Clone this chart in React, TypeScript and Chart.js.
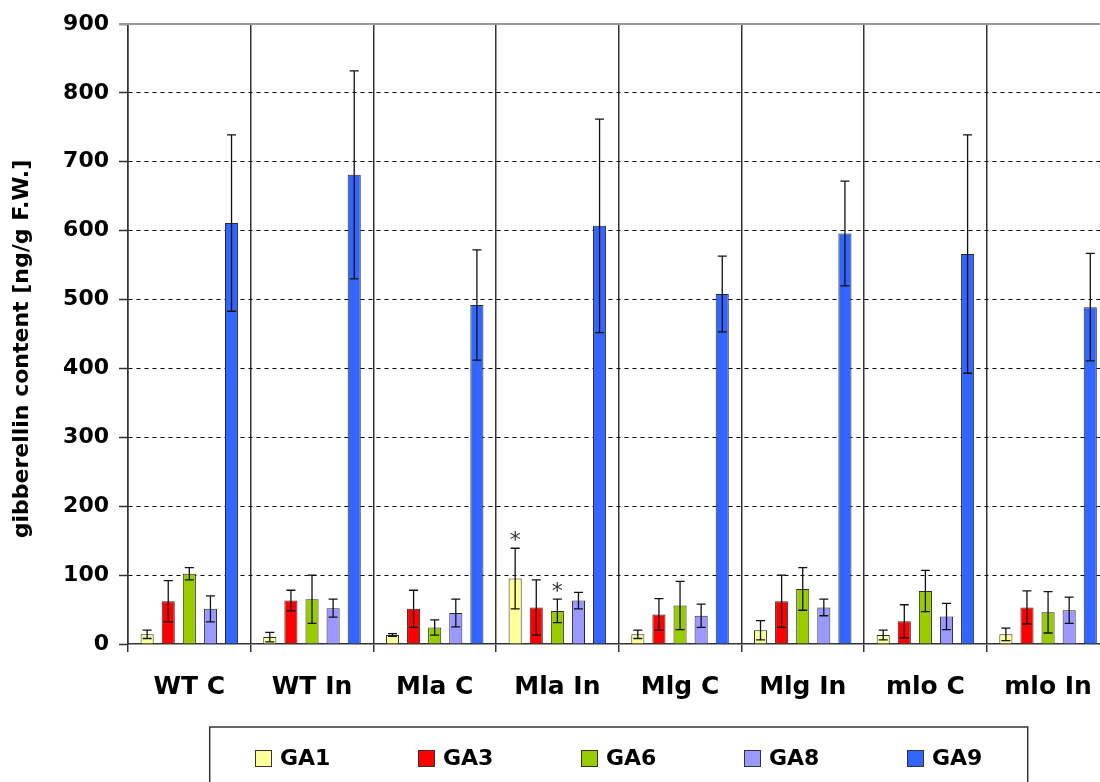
import React, { useEffect, useRef } from "react";
import { Chart, registerables } from "chart.js";

Chart.register(...registerables);

const categories = ["WT C", "WT In", "Mla C", "Mla In", "Mlg C", "Mlg In", "mlo C", "mlo In"];
const seriesNames = ["GA1", "GA3", "GA6", "GA8", "GA9"];
const seriesColors = ["#FFFF99", "#FF0000", "#99CC00", "#9999FF", "#3366FF"];

const ga1 = [14, 10, 13, 95, 14, 20, 13, 14];
const ga1Err = [6, 7, 2, 44, 6, 14, 7, 9];
const ga3 = [62, 63, 51, 53, 43, 62, 33, 53];
const ga3Err = [30, 15, 27, 40, 23, 38, 24, 24];
const ga6 = [102, 65, 24, 48, 56, 80, 77, 46];
const ga6Err = [9, 35, 11, 17, 35, 31, 30, 30];
const ga8 = [51, 52, 45, 63, 41, 53, 40, 49];
const ga8Err = [19, 13, 20, 12, 17, 12, 19, 19];
const ga9 = [611, 681, 492, 607, 508, 596, 566, 489];
const ga9Err = [128, 151, 80, 155, 55, 76, 173, 78];

// [category index, series index] marked with an asterisk
const significant = [
  [3, 0],
  [3, 2],
];

const yMin = 0;
const yMax = 900;
const yStep = 100;
const yTitle = "gibberellin content [ng/g F.W.]";

const seriesValues = [ga1, ga3, ga6, ga8, ga9];
const seriesErrors = [ga1Err, ga3Err, ga6Err, ga8Err, ga9Err];

const FONT = "'DejaVu Sans', 'Liberation Sans', sans-serif";

const errorBarPlugin = {
  id: "errorBars",
  afterDatasetsDraw(chart: any) {
    const ctx = chart.ctx;
    const ys = chart.scales.y;
    ctx.save();
    ctx.strokeStyle = "#111";
    ctx.lineWidth = 1.3;
    chart.data.datasets.forEach((ds: any, i: number) => {
      const meta = chart.getDatasetMeta(i);
      meta.data.forEach((el: any, j: number) => {
        const v = ds.data[j];
        const e = seriesErrors[i][j];
        const x = el.x;
        const t = ys.getPixelForValue(v + e);
        const b = ys.getPixelForValue(Math.max(v - e, 0));
        ctx.beginPath();
        ctx.moveTo(x, t);
        ctx.lineTo(x, b);
        ctx.moveTo(x - 4.5, t);
        ctx.lineTo(x + 4.5, t);
        ctx.moveTo(x - 4.5, b);
        ctx.lineTo(x + 4.5, b);
        ctx.stroke();
      });
    });
    // significance asterisks
    ctx.fillStyle = "#333";
    ctx.font = `22px ${FONT}`;
    ctx.textAlign = "center";
    ctx.textBaseline = "alphabetic";
    significant.forEach(([c, s]) => {
      const el = chart.getDatasetMeta(s).data[c];
      const v = seriesValues[s][c] + seriesErrors[s][c];
      const t = ys.getPixelForValue(v);
      ctx.fillText("*", el.x, t - 1);
    });
    ctx.restore();
  },
};

const decorPlugin = {
  id: "decor",
  afterDraw(chart: any) {
    const ctx = chart.ctx;
    const ca = chart.chartArea;
    ctx.save();
    // top border line
    ctx.strokeStyle = "#9a9a9a";
    ctx.lineWidth = 2;
    ctx.beginPath();
    ctx.moveTo(ca.left - 9, ca.top);
    ctx.lineTo(chart.width, ca.top);
    ctx.stroke();

    // y title
    ctx.fillStyle = "#000";
    ctx.font = `bold 22px ${FONT}`;
    ctx.textAlign = "center";
    ctx.textBaseline = "middle";
    ctx.translate(22, (ca.top + ca.bottom) / 2 + 15);
    ctx.rotate(-Math.PI / 2);
    ctx.fillText(yTitle, 0, 0);
    ctx.restore();

    // legend
    ctx.save();
    const cx = (ca.left + ca.right) / 2;
    const boxW = 818;
    const boxTop = 727;
    ctx.strokeStyle = "#333";
    ctx.lineWidth = 1.5;
    ctx.strokeRect(cx - boxW / 2, boxTop, boxW, 80);
    ctx.font = `bold 22px ${FONT}`;
    ctx.textBaseline = "middle";
    ctx.textAlign = "left";
    const spacing = 163;
    chart.data.datasets.forEach((ds: any, i: number) => {
      const tw = ctx.measureText(ds.label).width;
      const itemW = 17 + 8 + tw;
      const left = cx - itemW / 2 + (i - 2) * spacing;
      ctx.fillStyle = ds.backgroundColor;
      ctx.fillRect(left, 750, 17, 17);
      ctx.strokeStyle = "#333";
      ctx.lineWidth = 1;
      ctx.strokeRect(left + 0.5, 750.5, 16, 16);
      ctx.fillStyle = "#000";
      ctx.fillText(ds.label, left + 25, 759);
    });
    ctx.restore();
  },
};

export default function App() {
  const ref = useRef<HTMLCanvasElement | null>(null);

  useEffect(() => {
    if (!ref.current) return;
    const chart = new Chart(ref.current, {
      type: "bar",
      data: {
        labels: categories,
        datasets: seriesNames.map((name, i) => ({
          label: name,
          data: seriesValues[i],
          backgroundColor: seriesColors[i],
          borderColor: "#2a2a2a",
          borderWidth: 1,
          categoryPercentage: 0.86,
          barPercentage: 0.62,
        })),
      },
      options: {
        animation: false,
        responsive: true,
        maintainAspectRatio: false,
        layout: { padding: { left: 0, right: 2, top: 24, bottom: 80 } },
        plugins: {
          legend: { display: false },
          tooltip: { enabled: false },
        },
        scales: {
          x: {
            offset: true,
            afterFit: (scale: any) => {
              scale.height = 58;
            },
            grid: {
              offset: true,
              color: "#333",
              lineWidth: 1.5,
              tickLength: 8,
              tickColor: "#333",
              drawOnChartArea: true,
            },
            border: { color: "#333", width: 1.5 },
            ticks: {
              color: "#000",
              font: { family: FONT, size: 25, weight: "bold" },
              padding: 20,
              maxRotation: 0,
              autoSkip: false,
            },
          },
          y: {
            min: yMin,
            max: yMax,
            afterFit: (scale: any) => {
              scale.width = 128;
            },
            grid: {
              color: (c: any) => (c.tick && c.tick.value === 0 ? "rgba(0,0,0,0)" : "#000"),
              lineWidth: 1,
              tickLength: 9,
              tickColor: "#333",
              tickWidth: 1.5,
              tickBorderDash: [],
            },
            border: { color: "#333", width: 1.5, dash: [4, 4] },
            ticks: {
              stepSize: yStep,
              color: "#000",
              font: { family: FONT, size: 22, weight: "bold" },
              padding: 10,
            },
          },
        },
      },
      plugins: [errorBarPlugin, decorPlugin],
    });
    return () => chart.destroy();
  }, []);

  return (
    <div
      style={{
        position: "absolute",
        left: 0,
        top: 0,
        width: 1100,
        height: 782,
        overflow: "hidden",
        background: "#fff",
      }}
    >
      <div style={{ position: "relative", width: 1112, height: 782 }}>
        <canvas ref={ref} />
      </div>
    </div>
  );
}
